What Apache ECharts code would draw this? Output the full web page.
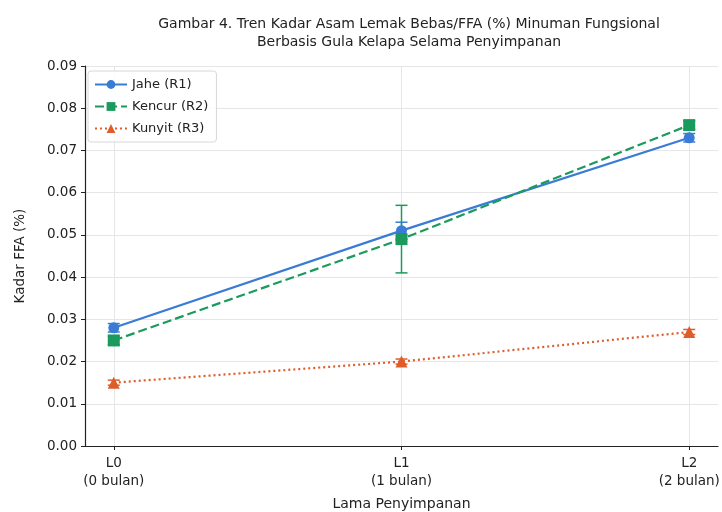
<!DOCTYPE html>
<html>
<head>
<meta charset="utf-8">
<script src="https://cdn.jsdelivr.net/npm/echarts@6/dist/echarts.min.js"></script>
<style>
  html, body { margin: 0; padding: 0; background: #fff; }
  #chart { width: 722px; height: 512px; }
</style>
</head>
<body>
<div id="chart"></div>
<script>
// kategori waktu penyimpanan
const categories = ["L0\n(0 bulan)", "L1\n(1 bulan)", "L2\n(2 bulan)"];
const jahe = [0.028, 0.051, 0.073];
const jaheErr = [0.001, 0.002, 0.001];
const kencur = [0.025, 0.049, 0.076];
const kencurErr = [0.001, 0.008, 0.001];
const kunyit = [0.015, 0.020, 0.027];
const kunyitErr = [0.0006, 0.0006, 0.0006];
const yTicks = [0, 0.01, 0.02, 0.03, 0.04, 0.05, 0.06, 0.07, 0.08, 0.09];

const colors = { jahe: "#3a7bd5", kencur: "#1a9a5c", kunyit: "#dd5d2b" };
const font = "DejaVu Sans";

function points(vals) {
  return vals.map((v, i) => [i, v]);
}

function errorSeries(name, vals, errs, color) {
  return {
    name: name,
    type: "custom",
    z: 3,
    data: vals.map((v, i) => [i, v - errs[i], v + errs[i]]),
    renderItem(params, api) {
      const lo = api.coord([api.value(0), api.value(1)]);
      const hi = api.coord([api.value(0), api.value(2)]);
      const w = 6;
      const st = { stroke: color, lineWidth: 1.5 };
      return {
        type: "group",
        children: [
          { type: "line", shape: { x1: lo[0], y1: lo[1], x2: hi[0], y2: hi[1] }, style: st },
          { type: "line", shape: { x1: lo[0] - w, y1: lo[1], x2: lo[0] + w, y2: lo[1] }, style: st },
          { type: "line", shape: { x1: hi[0] - w, y1: hi[1], x2: hi[0] + w, y2: hi[1] }, style: st }
        ]
      };
    }
  };
}

const chart = echarts.init(document.getElementById("chart"));
const option = {
  animation: false,
  textStyle: { fontFamily: font },
  title: {
    text: "Gambar 4. Tren Kadar Asam Lemak Bebas/FFA (%) Minuman Fungsional\nBerbasis Gula Kelapa Selama Penyimpanan",
    left: 404,
    textAlign: "center",
    top: 10,
    textStyle: { fontFamily: font, fontSize: 14, fontWeight: "normal", color: "#222", lineHeight: 18 }
  },
  legend: {
    left: 88,
    top: 71,
    orient: "vertical",
    itemWidth: 32,
    itemHeight: 11,
    itemGap: 9,
    padding: [7, 8, 7, 6],
    borderColor: "#d8d8d8",
    borderWidth: 1,
    borderRadius: 3,
    backgroundColor: "rgba(255,255,255,0.85)",
    textStyle: { fontFamily: font, fontSize: 13, color: "#222" },
    data: ["Jahe (R1)", "Kencur (R2)", "Kunyit (R3)"]
  },
  grid: { left: 85, right: 4, top: 66, bottom: 66, outerBoundsMode: "none" },
  xAxis: {
    type: "value",
    min: -0.1,
    max: 2.1,
    name: "Lama Penyimpanan",
    nameLocation: "middle",
    nameGap: 51,
    nameTextStyle: { fontFamily: font, fontSize: 14, color: "#222" },
    axisLine: { lineStyle: { color: "#222", width: 1.2 } },
    axisTick: { show: true, customValues: [0, 1, 2], length: 4, lineStyle: { color: "#222" } },
    axisLabel: {
      customValues: [0, 1, 2],
      formatter: v => categories[Math.round(v)],
      fontFamily: font, fontSize: 13.5, color: "#222", lineHeight: 18, margin: 8
    },
    splitLine: { show: true, lineStyle: { color: "#e6e6e6", width: 1 } }
  },
  yAxis: {
    type: "value",
    min: 0,
    max: 0.09,
    interval: 0.01,
    name: "Kadar FFA (%)",
    nameLocation: "middle",
    nameGap: 58,
    nameTextStyle: { fontFamily: font, fontSize: 13.5, color: "#222" },
    axisLine: { show: true, onZero: false, lineStyle: { color: "#222", width: 1.2 } },
    axisTick: { show: true, length: 4, lineStyle: { color: "#222" } },
    axisLabel: {
      formatter: v => yTicks.includes(+v.toFixed(2)) ? v.toFixed(2) : "",
      fontFamily: font, fontSize: 13.5, color: "#222", margin: 8
    },
    splitLine: { show: true, lineStyle: { color: "#e6e6e6", width: 1 } }
  },
  series: [
    {
      name: "Jahe (R1)", type: "line", z: 4, data: points(jahe),
      symbol: "circle", symbolSize: 11,
      itemStyle: { color: colors.jahe },
      lineStyle: { color: colors.jahe, width: 2.2 }
    },
    {
      name: "Kencur (R2)", type: "line", z: 5, data: points(kencur),
      symbol: "rect", symbolSize: 12,
      itemStyle: { color: colors.kencur },
      lineStyle: { color: colors.kencur, width: 2.2, type: [9, 4] }
    },
    {
      name: "Kunyit (R3)", type: "line", z: 4, data: points(kunyit),
      symbol: "triangle", symbolSize: 12,
      itemStyle: { color: colors.kunyit },
      lineStyle: { color: colors.kunyit, width: 2.2, type: [2, 3] }
    },
    errorSeries("Jahe (R1)", jahe, jaheErr, colors.jahe),
    errorSeries("Kencur (R2)", kencur, kencurErr, colors.kencur),
    errorSeries("Kunyit (R3)", kunyit, kunyitErr, colors.kunyit)
  ]
};
chart.setOption(option);
</script>
</body>
</html>
